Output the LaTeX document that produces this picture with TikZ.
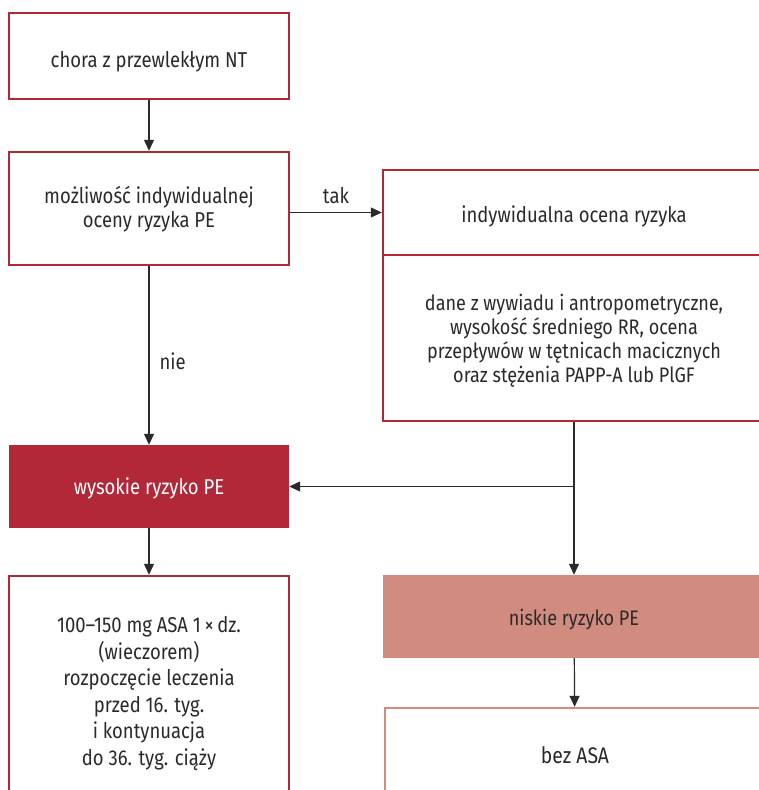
\documentclass[tikz,border=0pt]{standalone}
\usepackage{fontspec}
\setmainfont{Fira Sans}[FakeStretch=0.86]
\usepackage{xcolor}
\usepackage{tikz}
\usetikzlibrary{calc,arrows.meta}
\definecolor{ink}{HTML}{2B2A29}
\definecolor{darkred}{HTML}{B22838}
\definecolor{salmon}{HTML}{D28B7F}
% lines of a box, set a little lower than the middle
\newcommand{\boxlines}[2]{\raisebox{-#1}[\height][\depth]{\begin{tabular}{@{}c@{}}#2\end{tabular}}}
\tikzset{
  box/.style={draw=darkred, line width=2.4pt, fill=white, text=ink, align=center, font=\fontsize{21.5}{24}\selectfont, inner sep=0pt},
  boxhi/.style={fill=darkred, text=white, align=center, font=\fontsize{21.5}{24}\selectfont, inner sep=0pt},
  boxlo/.style={fill=salmon, text=ink, align=center, font=\fontsize{21}{24}\selectfont, inner sep=0pt},
  boxlt/.style={box, draw=salmon},
  arr/.style={draw=ink, line width=1.2pt, -{Triangle[length=11pt,width=10pt]}},
  lab/.style={text=ink, font=\fontsize{21.5}{24}\selectfont, inner sep=0pt},
}

\begin{document}
\begin{tikzpicture}[x=1pt, y=-1pt]
  \useasboundingbox[fill=white] (0,0) rectangle (759,790);

  \node[box, minimum width=280, minimum height=86] (start) at (149,56)
    {\boxlines{7pt}{chora z przewlekłym NT}};
  \node[box, minimum width=280, minimum height=113] (check) at (149,208.5)
    {\boxlines{2pt}{możliwość indywidualnej\\oceny ryzyka PE}};

  % right column runs off the page edge
  \node[box, minimum width=382, minimum height=85] (indiv) at (574,212.5)
    {\boxlines{5pt}{indywidualna ocena ryzyka}};
  \node[box, minimum width=382, minimum height=166, font=\fontsize{21}{24}\selectfont] (data) at (574,338)
    {\boxlines{4pt}{dane z wywiadu i antropometryczne,\\wysokość średniego RR, ocena\\przepływów w tętnicach macicznych\\oraz stężenia PAPP-A lub PlGF}};

  \node[boxhi, minimum width=280, minimum height=83] (high) at (149,486.5)
    {\boxlines{3pt}{wysokie ryzyko PE}};
  \node[boxlo, minimum width=382, minimum height=83] (low) at (574,616.5)
    {\boxlines{4pt}{niskie ryzyko PE}};

  \node[box, minimum width=280, minimum height=229, font=\fontsize{21.5}{26.5}\selectfont] (asa) at (149,690.5)
    {\boxlines{3pt}{100--150 mg ASA 1\,×\,dz.\\(wieczorem)\\rozpoczęcie leczenia\\przed 16. tyg.\\i kontynuacja\\do 36. tyg. ciąży}};
  \node[boxlt, minimum width=380, minimum height=97, font=\fontsize{22.5}{24}\selectfont] (none) at (575,756.5)
    {\boxlines{2pt}{bez ASA}};

  \coordinate (split) at (data.south |- high.east);

  \draw[arr] (start) -- (check);
  \draw[arr] (check.east |- indiv.west) -- node[lab, above=8pt] (yes) {tak} (indiv.west);
  \draw[arr] (check) -- node[lab, right=10pt, yshift=-6pt] (no) {nie} (high);
  \draw[arr] (data.south) -- (low.north);
  \draw[arr] (split) -- (high.east);
  \draw[arr] (high) -- (asa);
  \draw[arr] (low) -- (none);
\end{tikzpicture}
\end{document}
